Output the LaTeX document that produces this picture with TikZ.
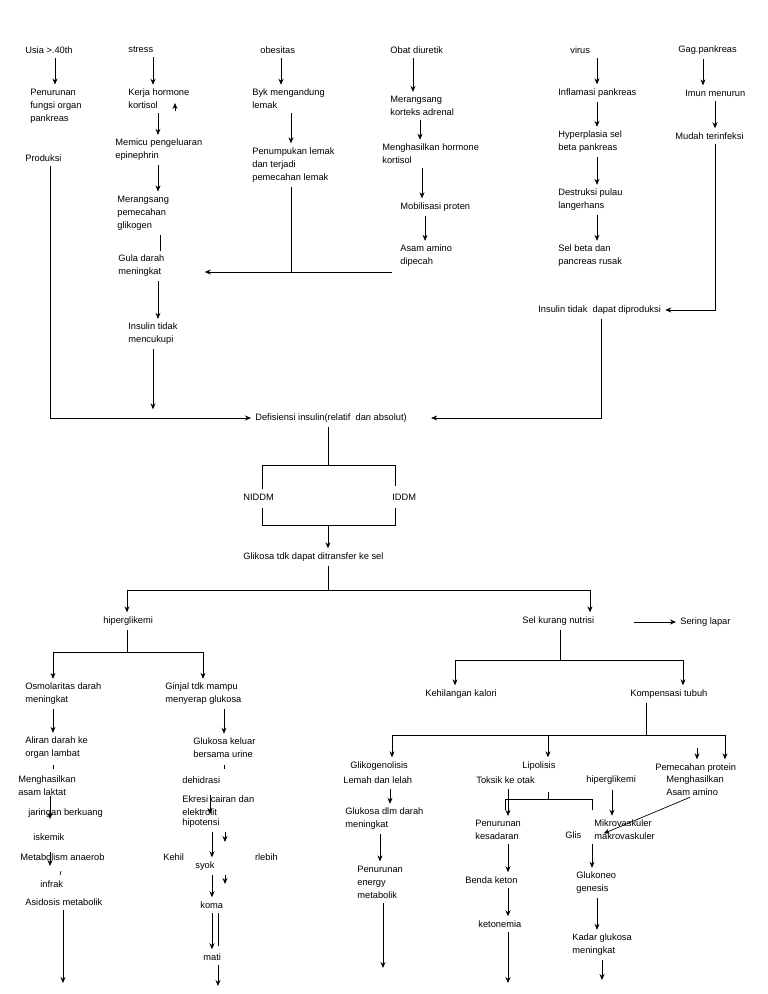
\documentclass[tikz,border=0pt]{standalone}
\usepackage{fontspec}
\setmainfont{Liberation Sans}
\usetikzlibrary{arrows.meta}
\def\gap{4pt}

\begin{document}
\begin{tikzpicture}[x=1pt, y=-1pt, line width=0.7pt]
        \tikzstyle{txt}=[anchor=west, inner sep=0pt, align=left, font=\fontsize{9.3}{13}\selectfont];
        \tikzstyle{arr}=[-{Stealth[length=6pt,width=5pt]}, shorten <=\gap, shorten >=\gap];
        \tikzstyle{ln}=[shorten <=\gap];
        \path[use as bounding box] (0,0) rectangle (768,994);

        % top causes
        \node[txt] (usia) at (25,50) {Usia >.40th};
        \node[txt] (stress) at (128,50) {stress};
        \node[txt] (obes) at (260,50) {obesitas};
        \node[txt] (diur) at (390,50) {Obat diuretik};
        \node[txt] (virus) at (570,50) {virus};
        \node[txt] (gag) at (678,50) {Gag.pankreas};

        % column usia
        \node[txt] (penfung) at (30,106) {Penurunan\\fungsi organ\\pankreas};
        \node[txt] (prod) at (25,158) {Produksi};
        % column stress
        \node[txt] (kerja) at (128,99) {Kerja hormone\\kortisol};
        \node[txt] (memicu) at (115,150) {Memicu pengeluaran\\epinephrin};
        \node[txt] (merang) at (117,213) {Merangsang\\pemecahan\\glikogen};
        \node[txt] (gula) at (118,266) {Gula darah\\meningkat};
        \node[txt] (instc) at (128,334) {Insulin tidak\\mencukupi};
        % column obesitas
        \node[txt] (byk) at (252,99) {Byk mengandung\\lemak};
        \node[txt] (penum) at (252,165) {Penumpukan lemak\\dan terjadi\\pemecahan lemak};
        % column diuretik
        \node[txt] (korteks) at (390,106) {Merangsang\\korteks adrenal};
        \node[txt] (mhorm) at (382,154) {Menghasilkan hormone\\kortisol};
        \node[txt] (mobil) at (400,207) {Mobilisasi proten};
        \node[txt] (asam) at (400,256) {Asam amino\\dipecah};
        % column virus
        \node[txt] (infl) at (558,93) {Inflamasi pankreas};
        \node[txt] (hyper) at (558,142) {Hyperplasia sel\\beta pankreas};
        \node[txt] (destr) at (558,200) {Destruksi pulau\\langerhans};
        \node[txt] (selbeta) at (558,256) {Sel beta dan\\pancreas rusak};
        \node[txt] (instdp) at (538,310) {Insulin tidak\ \ dapat diproduksi};
        % column gag
        \node[txt] (imun) at (685,93) {Imun menurun};
        \node[txt] (mudah) at (675,136) {Mudah terinfeksi};

        \draw[arr] (55,0 |- usia.south) -- (55,0 |- penfung.north);
        \draw[arr] (153,0 |- stress.south) -- (153,0 |- kerja.north);
        \draw[arr] (281,0 |- obes.south) -- (281,0 |- byk.north);
        \draw[arr] (413,0 |- diur.south) -- (413,0 |- korteks.north);
        \draw[arr] (597,0 |- virus.south) -- (597,0 |- infl.north);
        \draw[arr] (703,0 |- gag.south) -- (703,0 |- imun.north);

        \draw[arr, shorten <=0pt] (175,111) coordinate (up) -- (175,0 |- kerja.east);
        \draw[arr] (158,0 |- kerja.south) -- (158,0 |- memicu.north);
        \draw[arr] (158,0 |- memicu.south) -- (158,0 |- merang.north);
        \draw[ln, shorten >=\gap] (160,0 |- merang.south) -- (160,0 |- gula.north);
        \draw[arr] (158,0 |- gula.south) -- (158,0 |- instc.north);
        \draw[arr] (291,0 |- byk.south) -- (291,0 |- penum.north);
        \draw[ln] (291,0 |- penum.south) -- (291,272);
        \coordinate (dj) at (392,272);
        \draw[arr, shorten <=0pt] (dj) -- ([xshift=36pt]gula.east |- dj);
        \draw[arr] (420,0 |- korteks.south) -- (420,0 |- mhorm.north);
        \draw[arr] (422,0 |- mhorm.south) -- (422,0 |- mobil.north);
        \draw[arr] (425,0 |- mobil.south) -- (425,0 |- asam.north);
        \draw[arr] (597,0 |- infl.south) -- (597,0 |- hyper.north);
        \draw[arr] (597,0 |- hyper.south) -- (597,0 |- destr.north);
        \draw[arr] (597,0 |- destr.south) -- (597,0 |- selbeta.north);
        \draw[arr] (715,0 |- imun.south) -- (715,0 |- mudah.north);
        \draw[arr] (715,0 |- mudah.south) |- (instdp.east);

        % defisiensi
        \node[txt] (defi) at (255,418) {Defisiensi insulin(relatif\ \ dan absolut)};
        \draw[arr] (50,0 |- prod.south) |- (defi.west);
        \draw[arr] (153,0 |- instc.south) -- (153,0 |- defi.north);
        \draw[arr] (601,0 |- instdp.south) |- ([xshift=20pt]defi.east);

        \node[txt] (niddm) at (243,497) {NIDDM};
        \node[txt] (iddm) at (392,497) {IDDM};
        \node[txt] (glik) at (243,557) {Glikosa tdk dapat ditransfer ke sel};
        \draw[ln] (328,0 |- defi.south) -- (328,465);
        \draw (262,0 |- niddm.north) ++(0,-4) -- (262,465) -- (395,465) -- (395,486);
        \draw (262,508) -- (262,525) -- (395,525) -- (395,508);
        \draw[arr, shorten <=0pt] (328,525) coordinate (t2) -- (328,0 |- glik.north);

        % second level
        \node[txt] (hipg) at (103,621) {hiperglikemi};
        \node[txt] (selk) at (522,621) {Sel kurang nutrisi};
        \node[txt] (lapar) at (680,622) {Sering lapar};
        \draw[ln] (328,0 |- glik.south) -- (328,590);
        \draw[arr, shorten <=0pt] (328,590) -| (127,0 |- hipg.north);
        \draw[arr, shorten <=0pt] (328,590) -| (590,0 |- selk.north);
        \draw[arr, shorten <=6pt] (628,622) coordinate (lp) -- (lapar.west);

        \node[txt] (osmo) at (25,694) {Osmolaritas darah\\meningkat};
        \node[txt] (ginjal) at (165,694) {Ginjal tdk mampu\\menyerap glukosa};
        \draw[ln] (127,0 |- hipg.south) -- (127,652);
        \draw[arr, shorten <=0pt] (127,652) -| (53,0 |- osmo.north);
        \draw[arr, shorten <=0pt] (127,652) -| (203,0 |- ginjal.north);

        \node[txt] (kalori) at (425,694) {Kehilangan kalori};
        \node[txt] (kompen) at (630,694) {Kompensasi tubuh};
        \draw[ln] (560,0 |- selk.south) -- (560,660);
        \draw[arr, shorten <=0pt] (560,660) -| (455,0 |- kalori.north);
        \draw[arr, shorten <=0pt] (560,660) -| (683,0 |- kompen.north);

        % left branch
        \node[txt] (aliran) at (25,748) {Aliran darah ke\\organ lambat};
        \node[txt] (laktat) at (18,786) {Menghasilkan\\asam laktat};
        \node[txt] (jaring) at (28,813) {jaringan berkuang};
        \node[txt] (iskem) at (33,837) {iskemik};
        \node[txt] (anaer) at (20,857) {Metabolism anaerob};
        \node[txt] (infrak) at (40,884) {infrak};
        \node[txt] (asid) at (25,902) {Asidosis metabolik};
        \draw[arr] (53,0 |- osmo.south) -- (53,0 |- aliran.north);
        \draw (53,765) -- (53,769);
        \draw[arr, shorten <=0pt] (50,0 |- laktat.south) -- (50,823);
        \draw[arr, shorten <=0pt] (50,852) -- (50,870);
        \draw (61,871) -- (60,875);
        \draw[arr] (63,0 |- asid.south) -- (63,987);

        % ginjal branch
        \node[txt] (urine) at (193,748) {Glukosa keluar\\bersama urine};
        \node[txt] (dehid) at (182,780) {dehidrasi};
        \node[txt] (ekresi) at (182,806) {Ekresi cairan dan\\elektrolit};
        \node[txt] (hipot) at (182,823) {hipotensi};
        \node[txt] (kehil) at (163,857) {Kehil\hspace{71pt}rlebih};
        \node[txt] (syok) at (195,866) {syok};
        \node[txt] (koma) at (200,905) {koma};
        \node[txt] (mati) at (203,957) {mati};
        \draw[arr] (224,0 |- ginjal.south) -- (224,0 |- urine.north);
        \draw (224,765) -- (224,769);
        \draw[arr, shorten <=0pt] (210,795) -- (210,818);
        \draw[arr] (212,0 |- hipot.south) -- (212,0 |- syok.north);
        \draw[arr] (225,0 |- hipot.south) -- (225,846);
        \draw[arr] (212,0 |- syok.south) -- (212,0 |- koma.north);
        \draw[arr] (225,0 |- syok.south) -- (225,888);
        \draw[arr] (212,0 |- koma.south) -- (212,0 |- mati.north);
        \draw[ln] (218,0 |- koma.south) -- (218,946);
        \draw[arr] (218,0 |- mati.south) -- (218,990);

        % kompensasi branch
        \node[txt] (glikog) at (350,766) {Glikogenolisis};
        \node[txt] (lipo) at (522,766) {Lipolisis};
        \node[txt] (pemprot) at (655,768) {Pemecahan protein};
        \node[txt, fill=white, inner sep=1pt] (lemah) at (342,780) {Lemah dan lelah};
        \node[txt, fill=white, inner sep=1pt] (toksik) at (475,780) {Toksik ke otak};
        \node[txt, fill=white, inner sep=1pt] (hipg2) at (585,780) {hiperglikemi};
        \node[txt, fill=white, inner sep=1pt] (mhasil) at (665,786) {Menghasilkan\\Asam amino};
        \draw[ln] (646,0 |- kompen.south) -- (646,735);
        \draw[arr, shorten <=0pt] (646,735) -| (392,0 |- glikog.north);
        \draw[arr, shorten <=0pt] (548,735) -- (548,0 |- lipo.north);
        \draw[arr, shorten <=0pt] (646,735) -| (725,0 |- pemprot.north);
        \draw[arr, shorten <=0pt] (697,748) -- (697,0 |- pemprot.north);

        \node[txt] (glkdrh) at (345,819) {Glukosa dlm darah\\meningkat};
        \node[txt] (energi) at (357,882) {Penurunan\\energy\\metabolik};
        \draw[arr] (390,0 |- lemah.south) -- (390,0 |- glkdrh.north);
        \draw[arr] (380,0 |- glkdrh.south) -- (380,0 |- energi.north);
        \draw[arr] (383,0 |- energi.south) -- (383,972);

        \node[txt] (kesad) at (475,830) {Penurunan\\kesadaran};
        \node[txt] (glis) at (565,835) {Glis};
        \node[txt] (mikro) at (594,830) {Mikrovaskuler\\makrovaskuler};
        \node[txt] (keton) at (465,880) {Benda keton};
        \node[txt] (ketone) at (478,924) {ketonemia};
        \node[txt] (glukneo) at (576,883) {Glukoneo\\genesis};
        \node[txt] (kadar) at (572,945) {Kadar glukosa\\meningkat};
        \draw (548,792) -- (548,799);
        \draw (505,810) -- (505,799) -- (592,799) -- (592,810);
        \draw[arr] (508,0 |- toksik.south) -- (508,0 |- kesad.north);
        \draw[arr] (612,0 |- hipg2.south) -- (612,0 |- mikro.north);
        \draw[arr, shorten <=0pt] (690,0 |- mhasil.south) -- (600,835);
        \draw[arr] (508,0 |- kesad.south) -- (508,0 |- keton.north);
        \draw[arr] (508,0 |- keton.south) -- (508,0 |- ketone.north);
        \draw[arr] (508,0 |- ketone.south) -- (508,987);
        \draw[arr] (592,0 |- mikro.south) -- (592,0 |- glukneo.north);
        \draw[arr] (597,0 |- glukneo.south) -- (597,0 |- kadar.north);
        \draw[arr] (602,0 |- kadar.south) -- (602,984);
\end{tikzpicture}
\end{document}
